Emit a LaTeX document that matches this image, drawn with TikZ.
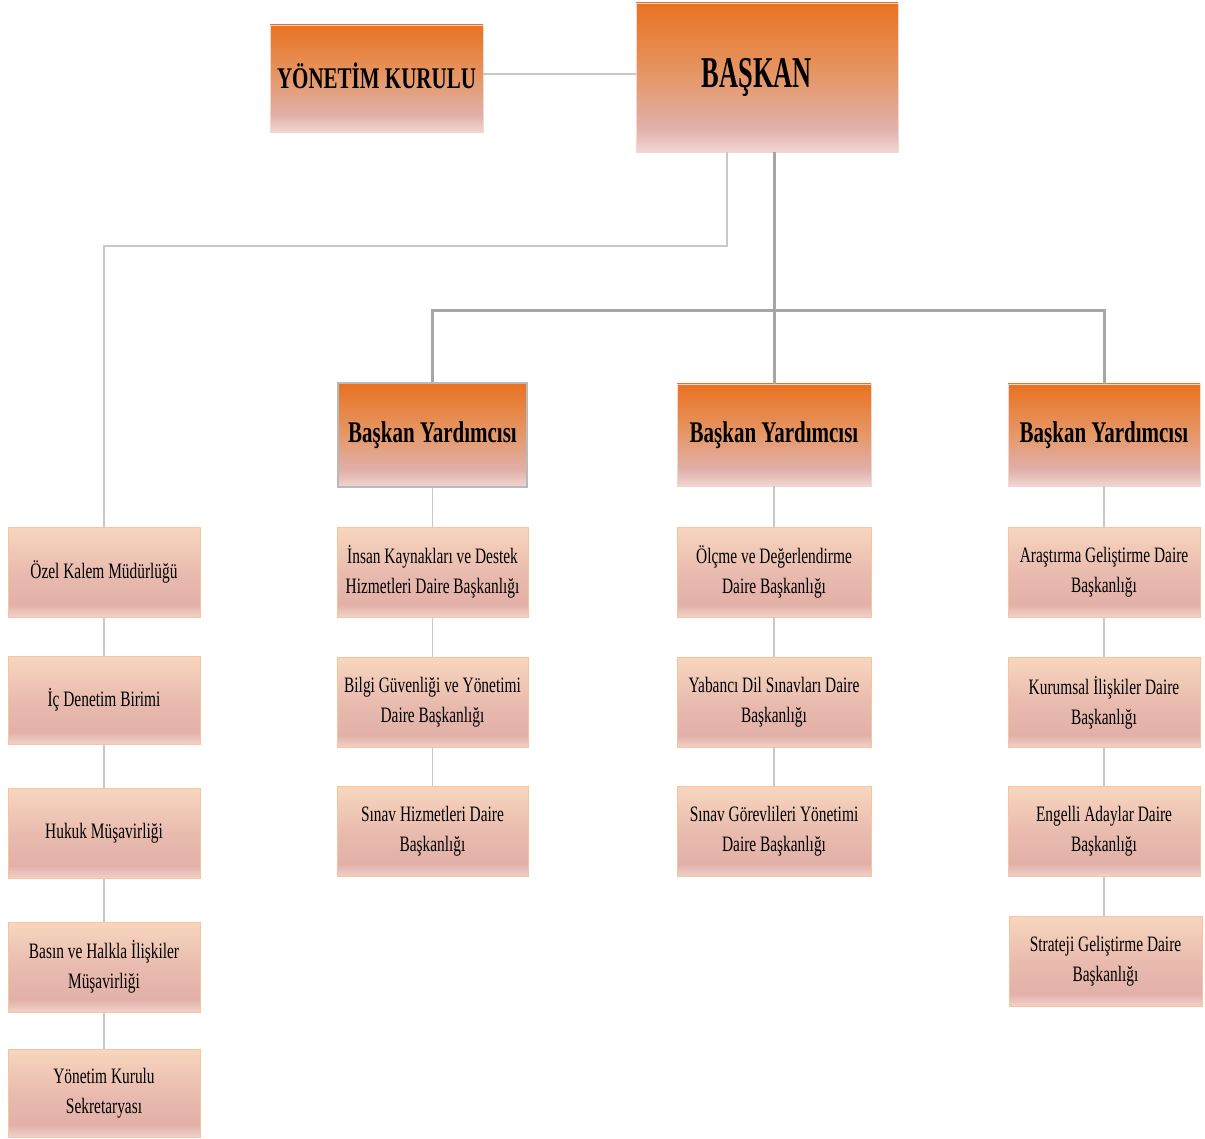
\documentclass[tikz,border=0pt]{standalone}
\usepackage{fontspec}
\setmainfont[FakeStretch=0.7]{Liberation Serif}
\definecolor{bgO}{RGB}{233,114,32}
\definecolor{bgM}{RGB}{229,152,105}
\definecolor{bgP}{RGB}{225,176,170}
\definecolor{bgB}{RGB}{242,214,210}
\definecolor{sT}{RGB}{248,214,190}
\definecolor{sP}{RGB}{226,176,168}
\definecolor{sB}{RGB}{240,210,202}
\definecolor{sBorder}{RGB}{247,196,156}
\definecolor{lineL}{RGB}{200,200,200}
\definecolor{lineD}{RGB}{166,166,166}
\pgfdeclareverticalshading{bigshade}{100bp}{color(0bp)=(bgB); color(25bp)=(bgB); color(33bp)=(bgP); color(50bp)=(bgM); color(75bp)=(bgO); color(100bp)=(bgO)}
\pgfdeclareverticalshading{smallshade}{100bp}{color(0bp)=(sB); color(25bp)=(sB); color(32bp)=(sP); color(50bp)=(sP!70!sT); color(75bp)=(sT); color(100bp)=(sT)}
\tikzset{
  bigbox/.style={shade, shading=bigshade, draw=bgB, line width=0.6pt, inner sep=0pt, align=center, font=\fontsize{30}{34}\selectfont\bfseries},
  smallbox/.style={shade, shading=smallshade, draw=sBorder, line width=1pt, inner sep=0pt, minimum height=90pt, align=center, font=\fontsize{22}{30}\selectfont},
  thinline/.style={draw=lineL, line width=1.5pt},
  thickline/.style={draw=lineD, line width=3pt}
}
\begin{document}
\begin{tikzpicture}[x=1pt,y=-1pt]
\useasboundingbox (0,0) rectangle (1205,1139);
% top
\node[bigbox, minimum width=213pt, minimum height=107pt] (yk) at (376.5,78.5) {\raisebox{5pt}{YÖNETİM KURULU}};
\node[bigbox, minimum width=262pt, minimum height=149pt, font=\fontsize{44}{48}\selectfont\bfseries\addfontfeatures{FakeStretch=0.6}] (bas) at (767,77.5) {\raisebox{6pt}{BAŞKAN}\kern20pt};
% vice presidents
\node[bigbox, draw=gray!55, line width=1.2pt, minimum width=189pt, minimum height=104pt] (by1) at (432.5,435) {Başkan Yardımcısı};
\node[bigbox, minimum width=194pt, minimum height=102pt] (by2) at (774,435) {Başkan Yardımcısı};
\node[bigbox, minimum width=192pt, minimum height=102pt] (by3) at (1104,435) {Başkan Yardımcısı};
% column 1
\node[smallbox, minimum width=192pt] (ozel) at (104,572) {Özel Kalem Müdürlüğü};
\node[smallbox, minimum width=192pt, minimum height=88pt] (ic) at (104,700) {İç Denetim Birimi};
\node[smallbox, minimum width=192pt] (hukuk) at (104,833.5) {Hukuk Müşavirliği};
\node[smallbox, minimum width=192pt] (basin) at (104,967) {Basın ve Halkla İlişkiler\\Müşavirliği};
\node[smallbox, minimum width=192pt, minimum height=88pt] (yks) at (104,1093) {Yönetim Kurulu\\Sekretaryası};
% column 2
\node[smallbox, minimum width=191pt] (ik) at (432.5,572) {İnsan Kaynakları ve Destek\\Hizmetleri Daire Başkanlığı};
\node[smallbox, minimum width=191pt] (bilgi) at (432.5,702.5) {Bilgi Güvenliği ve Yönetimi\\Daire Başkanlığı};
\node[smallbox, minimum width=191pt] (sh) at (432.5,831.5) {Sınav Hizmetleri Daire\\Başkanlığı};
% column 3
\node[smallbox, minimum width=194pt] (olcme) at (774,572) {Ölçme ve Değerlendirme\\Daire Başkanlığı};
\node[smallbox, minimum width=194pt] (yd) at (774,702.5) {Yabancı Dil Sınavları Daire\\Başkanlığı};
\node[smallbox, minimum width=194pt] (sg) at (774,831.5) {Sınav Görevlileri Yönetimi\\Daire Başkanlığı};
% column 4
\node[smallbox, minimum width=192pt] (ar) at (1104,572) {Araştırma Geliştirme Daire\\Başkanlığı};
\node[smallbox, minimum width=192pt] (kur) at (1104,702.5) {Kurumsal İlişkiler Daire\\Başkanlığı};
\node[smallbox, minimum width=192pt] (eng) at (1104,831.5) {Engelli Adaylar Daire\\Başkanlığı};
\node[smallbox, minimum width=193pt] (str) at (1105.5,961) {Strateji Geliştirme Daire\\Başkanlığı};
% connectors
\coordinate (yl) at (0,74);
\coordinate (jl) at (727,246);
\coordinate (bus) at (774,311);
\draw[thinline] (yk.east |- yl) -- (bas.west |- yl);
\draw[thinline] (bas.south -| jl) -- (jl) -| (ozel.north);
\draw[thickline] (bas.south -| by2.north) -- (by2.north);
\draw[thickline] (by1.north) |- (bus) -| (by3.north);
\draw[thinline] (ozel) -- (ic);
\draw[thinline] (ic) -- (hukuk);
\draw[thinline] (hukuk) -- (basin);
\draw[thinline] (basin) -- (yks);
\draw[thinline] (by1) -- (ik);
\draw[thinline] (ik) -- (bilgi);
\draw[thinline] (bilgi) -- (sh);
\draw[thinline] (by2) -- (olcme);
\draw[thinline] (olcme) -- (yd);
\draw[thinline] (yd) -- (sg);
\draw[thinline] (by3) -- (ar);
\draw[thinline] (ar) -- (kur);
\draw[thinline] (kur) -- (eng);
\draw[thinline] (eng.south) -- (eng.south |- str.north);
\end{tikzpicture}
\end{document}
